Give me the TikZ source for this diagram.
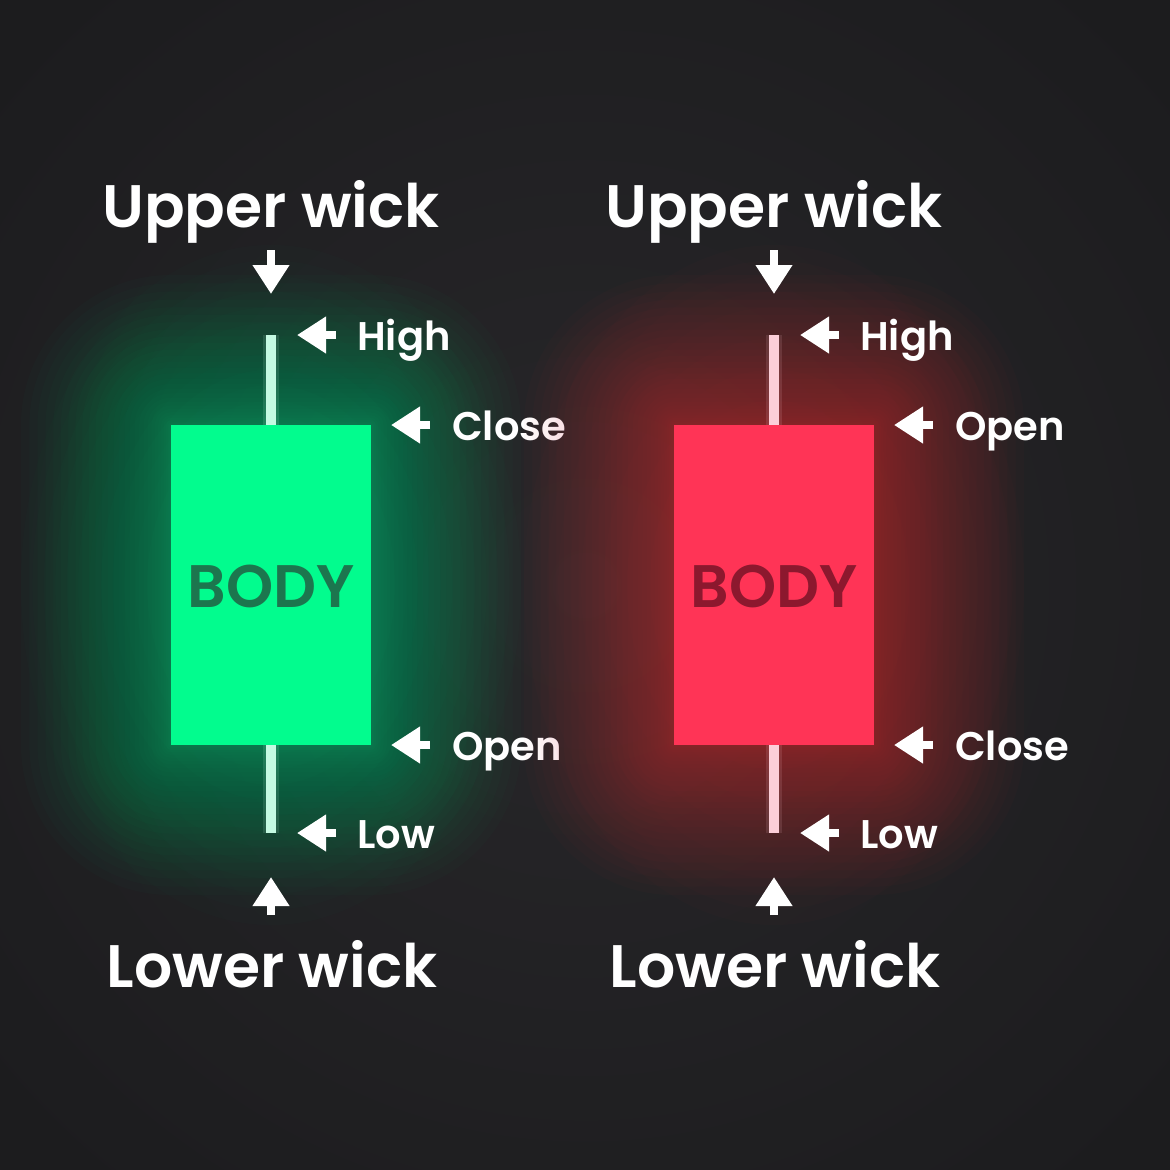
\documentclass[tikz,border=0pt]{standalone}
\usepackage{fontspec}
\setmainfont{Poppins SemiBold}
\usetikzlibrary{arrows.meta}
\definecolor{bgin}{RGB}{40,39,42}
\definecolor{bgout}{RGB}{28,28,30}
\definecolor{gbody}{RGB}{2,252,142}
\definecolor{gglow}{RGB}{10,200,120}
\definecolor{gtext}{RGB}{28,118,78}
\definecolor{gwick}{RGB}{196,250,226}
\definecolor{rbody}{RGB}{255,52,86}
\definecolor{rglow}{RGB}{230,45,75}
\definecolor{rtext}{RGB}{140,24,46}
\definecolor{rwick}{RGB}{252,206,216}
\tikzset{
  title/.style={font=\fontsize{60}{60}\selectfont, text=white, inner sep=0pt, anchor=base},
  lab/.style={font=\fontsize{40}{40}\selectfont, text=white, inner sep=0pt, anchor=base west},
  bodytxt/.style={font=\fontsize{60}{60}\selectfont, inner sep=0pt, anchor=base},
  ptr/.style={draw=white, line width=8pt, -{Triangle[length=29pt,width=35pt]}},
}
\begin{document}
\begin{tikzpicture}[x=1pt,y=-1pt]
\useasboundingbox (0,0) rectangle (1170,1170);
\fill[bgout] (0,0) rectangle (1170,1170);
\shade[inner color=bgin, outer color=bgout] (-200,-200) rectangle (1370,1370);
\foreach \sx/\bc/\gc/\tc/\wc/\lt/\lb/\n in {0/gbody/gglow/gtext/gwick/Close/Open/g, 503/rbody/rglow/rtext/rwick/Open/Close/r}{
  % broad elliptical glow
  \foreach \i in {1,...,12}{
    \pgfmathsetmacro\t{0.45+0.55*(\i/12)}
    \fill[\gc, opacity=0.016] ({271+\sx},585) ellipse [x radius={250*\t}, y radius={340*\t}];
  }
  % soft rectangular glow, dense near the body
  \foreach \i in {1,...,30}{
    \pgfmathsetmacro\d{150*(\i/30)^1.7}
    \fill[\gc, opacity=0.022, rounded corners=\d pt]
      ({171+\sx-\d},{425-\d}) rectangle ({371+\sx+\d},{745+\d});
  }
  % wicks
  \coordinate (\n wt) at ({271+\sx},335);
  \coordinate (\n wb) at ({271+\sx},833);
  \draw[\wc, line width=16pt, opacity=0.12] (\n wt) -- ({271+\sx},425);
  \draw[\wc, line width=16pt, opacity=0.12] ({271+\sx},745) -- (\n wb);
  \draw[\wc, line width=10pt] (\n wt) -- ({271+\sx},425);
  \draw[\wc, line width=10pt] ({271+\sx},745) -- (\n wb);
  % body
  \fill[\bc] ({171+\sx},425) rectangle ({371+\sx},745);
  \node[bodytxt, text=\tc] (\n body) at ({271+\sx},607) {BODY};
  % titles
  \node[title] (\n upper) at ({271+\sx},227) {Upper wick};
  \node[title] (\n lower) at ({272+\sx},987) {Lower wick};
  % vertical arrows
  \coordinate (\n ua) at ({271+\sx},250);
  \coordinate (\n ub) at ({271+\sx},294);
  \draw[ptr] (\n ua) -- (\n ub);
  \coordinate (\n la) at ({271+\sx},915);
  \coordinate (\n lb) at ({271+\sx},877);
  \draw[ptr] (\n la) -- (\n lb);
  % side arrows
  \coordinate (\n ha) at ({336+\sx},335);
  \coordinate (\n hb) at ({297+\sx},335);
  \draw[ptr] (\n ha) -- (\n hb);
  \node[lab] (\n high) at ({357+\sx},350) {High};
  \coordinate (\n ta) at ({430+\sx},425);
  \coordinate (\n tb) at ({391+\sx},425);
  \draw[ptr] (\n ta) -- (\n tb);
  \node[lab] (\n top) at ({452+\sx},440) {\lt};
  \coordinate (\n ba) at ({430+\sx},745);
  \coordinate (\n bb) at ({391+\sx},745);
  \draw[ptr] (\n ba) -- (\n bb);
  \node[lab] (\n bot) at ({452+\sx},760) {\lb};
  \coordinate (\n lwa) at ({336+\sx},833);
  \coordinate (\n lwb) at ({297+\sx},833);
  \draw[ptr] (\n lwa) -- (\n lwb);
  \node[lab] (\n low) at ({357+\sx},848) {Low};
}
\end{tikzpicture}
\end{document}
